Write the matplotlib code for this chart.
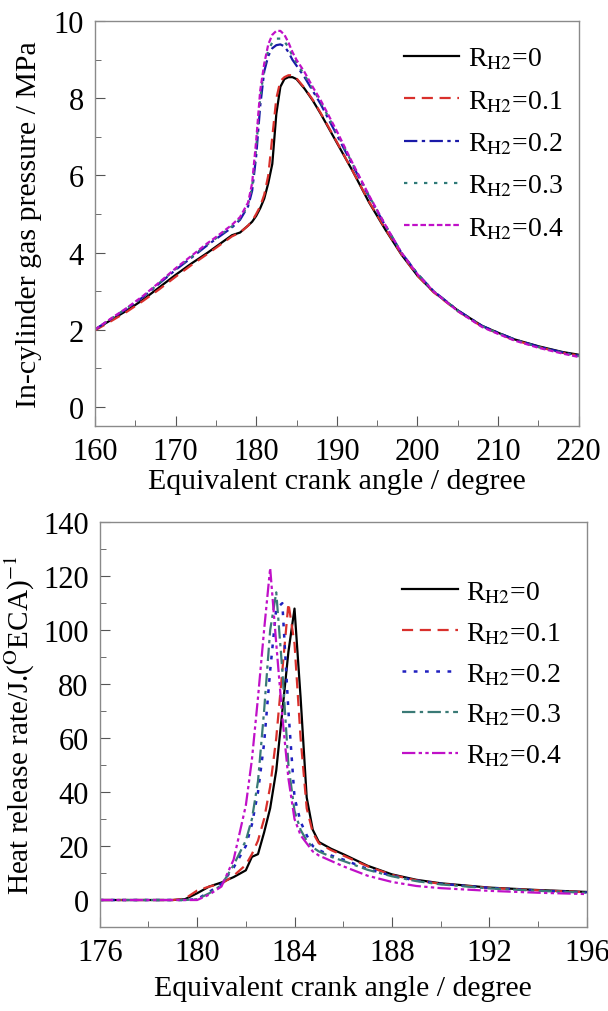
import numpy as np
import matplotlib
matplotlib.use("Agg")
import matplotlib.pyplot as plt
from matplotlib.ticker import MultipleLocator

# ---------------------------
# Data
# ---------------------------
ratios = ["0", "0.1", "0.2", "0.3", "0.4"]

# top panel: in-cylinder pressure (MPa)
p_angle = [160, 162, 164, 166, 168, 170, 172, 174, 175, 176, 177, 178, 179, 179.5,
           180, 180.5, 181, 181.5, 182, 182.5, 183, 183.5, 184, 184.5, 185, 186,
           187, 188, 190, 192, 194, 196, 198, 200, 202, 205, 208, 210, 212, 215,
           218, 220]
p_r0 = [2.0, 2.25, 2.5, 2.78, 3.1, 3.42, 3.72, 4.0, 4.15, 4.3, 4.45, 4.52, 4.7, 4.8,
        4.95, 5.15, 5.4, 5.8, 6.3, 7.6, 8.3, 8.5, 8.55, 8.55, 8.5, 8.25,
        7.95, 7.6, 6.85, 6.1, 5.3, 4.6, 3.95, 3.4, 2.98, 2.5, 2.1, 1.92, 1.75, 1.57,
        1.42, 1.35]
p_r1 = [1.98, 2.22, 2.47, 2.75, 3.05, 3.37, 3.68, 3.97, 4.12, 4.27, 4.42, 4.52, 4.7, 4.82,
        5.0, 5.2, 5.5, 6.0, 7.0, 8.0, 8.45, 8.55, 8.6, 8.6, 8.52, 8.27,
        7.97, 7.62, 6.87, 6.1, 5.32, 4.62, 3.96, 3.4, 2.97, 2.48, 2.08, 1.9, 1.73, 1.55,
        1.4, 1.33]
p_r2 = [2.0, 2.28, 2.55, 2.85, 3.2, 3.55, 3.87, 4.2, 4.35, 4.5, 4.65, 4.85, 5.2, 5.6,
        6.5, 7.8, 8.7, 9.1, 9.3, 9.38, 9.4, 9.35, 9.2, 9.0, 8.85, 8.55,
        8.2, 7.85, 7.05, 6.25, 5.45, 4.7, 4.0, 3.45, 3.0, 2.5, 2.1, 1.92, 1.75, 1.56,
        1.41, 1.33]
p_r3 = [2.0, 2.28, 2.56, 2.86, 3.21, 3.57, 3.89, 4.22, 4.37, 4.53, 4.68, 4.88, 5.25, 5.7,
        6.7, 8.0, 8.8, 9.25, 9.45, 9.55, 9.55, 9.48, 9.32, 9.1, 8.93, 8.6,
        8.25, 7.9, 7.1, 6.28, 5.47, 4.72, 4.0, 3.45, 3.0, 2.49, 2.09, 1.91, 1.74, 1.55,
        1.4, 1.31]
p_r4 = [2.0, 2.29, 2.57, 2.88, 3.23, 3.59, 3.92, 4.25, 4.4, 4.56, 4.72, 4.92, 5.3, 5.8,
        6.9, 8.2, 8.9, 9.4, 9.65, 9.75, 9.75, 9.65, 9.45, 9.2, 9.0, 8.68,
        8.3, 7.95, 7.15, 6.3, 5.48, 4.72, 4.0, 3.44, 2.99, 2.48, 2.07, 1.89, 1.72, 1.53,
        1.38, 1.29]

# bottom panel: heat release rate
h_angle = [176, 179, 179.5, 180, 180.5, 181, 181.5, 182, 182.25, 182.5, 182.75, 183,
           183.25, 183.5, 183.75, 184, 184.25, 184.5, 184.75, 185, 185.5, 186, 187,
           188, 189, 190, 192, 194, 196]
h_r0 = [0, 0, 0.3, 2.5, 5, 6.5, 8.5, 11, 16, 17, 25, 34,
        48, 70, 92, 108, 75, 38, 26, 21.5, 19, 17, 12.7,
        9.5, 7.5, 6.2, 4.6, 3.7, 3.0]
h_r1 = [0, 0, 0.5, 3.5, 5, 6, 9, 13, 17, 22, 30, 42,
        60, 85, 110, 95, 60, 34, 25, 21, 18.5, 16.5, 12.5,
        9.3, 7.3, 6.0, 4.5, 3.6, 2.9]
h_r2 = [0, 0, 0, 0.3, 3, 6, 12, 20, 28, 40, 58, 85,
        108, 110, 70, 38, 29, 24, 20, 18.5, 16.5, 15, 11.5,
        9.0, 7.2, 6.0, 4.5, 3.5, 2.8]
h_r3 = [0, 0, 0, 0.3, 2.5, 5.5, 13, 22, 30, 44, 70, 100,
        114, 85, 50, 33, 26, 22, 19.5, 18, 16, 14.5, 11.2,
        8.8, 7.0, 5.8, 4.3, 3.4, 2.7]
h_r4 = [0, 0, 0, 0, 2, 5, 15, 35, 52, 75, 100, 123,
        95, 68, 45, 30, 24, 21, 18, 16.5, 14.5, 12.5, 9,
        6.7, 5.2, 4.4, 3.4, 2.7, 2.2]

# ---------------------------
# Style
# ---------------------------
plt.rcParams["font.family"] = ["Liberation Serif", "DejaVu Serif"]
plt.rcParams["mathtext.fontset"] = "stix"

top_styles = [
    ("black", "-", 1.6),
    ("#d9302c", (0, (5, 3)), 1.6),
    ("#1a1aa8", (0, (6, 2, 1.5, 2)), 1.6),
    ("#2f7a78", (0, (1.5, 3)), 1.6),
    ("#c010c8", (0, (2.5, 1.2)), 1.6),
]
bot_styles = [
    ("black", "-", 1.6),
    ("#d9302c", (0, (5, 3)), 1.6),
    ("#2020c0", (0, (1.5, 3)), 1.8),
    ("#3a7a76", (0, (6, 2, 1.5, 2)), 1.6),
    ("#c010c8", (0, (6, 1.5, 1.5, 1.5, 1.5, 1.5)), 1.6),
]


def label(r):
    return "R$_{\\mathrm{H2}}$=" + r


def style_axes(ax):
    for s in ax.spines.values():
        s.set_color("#8a8a8a")
        s.set_linewidth(1.0)
    ax.tick_params(which="both", direction="in", top=False, right=False,
                   labelsize=22, color="#555555")
    ax.tick_params(which="major", length=7, pad=8)
    ax.tick_params(which="minor", length=4)


fig = plt.figure(figsize=(6.08, 10.12), dpi=100)

# top panel
ax1 = fig.add_axes([0.156, 0.578, 0.796, 0.400])
for r, y, (c, ls, lw) in zip(ratios, [p_r0, p_r1, p_r2, p_r3, p_r4], top_styles):
    ax1.plot(p_angle, y, color=c, linestyle=ls, linewidth=lw, label=label(r))
ax1.set_xlim(160, 220)
ax1.set_ylim(-0.5, 10)
ax1.xaxis.set_major_locator(MultipleLocator(10))
ax1.xaxis.set_minor_locator(MultipleLocator(5))
ax1.yaxis.set_major_locator(MultipleLocator(2))
ax1.yaxis.set_minor_locator(MultipleLocator(1))
style_axes(ax1)
ax1.set_xlabel("Equivalent crank angle / degree", fontsize=21.5, labelpad=1)
ax1.set_ylabel("In-cylinder gas pressure / MPa", fontsize=21.5, labelpad=8)
ax1.legend(loc="upper right", frameon=False, fontsize=20, handlelength=2.0,
           handletextpad=0.3, labelspacing=0.6, bbox_to_anchor=(1.02, 1.0))

# bottom panel
ax2 = fig.add_axes([0.164, 0.083, 0.801, 0.400])
for r, y, (c, ls, lw) in zip(ratios, [h_r0, h_r1, h_r2, h_r3, h_r4], bot_styles):
    ax2.plot(h_angle, y, color=c, linestyle=ls, linewidth=lw, label=label(r))
ax2.set_xlim(176, 196)
ax2.set_ylim(-10, 140)
ax2.xaxis.set_major_locator(MultipleLocator(4))
ax2.xaxis.set_minor_locator(MultipleLocator(2))
ax2.yaxis.set_major_locator(MultipleLocator(20))
ax2.yaxis.set_minor_locator(MultipleLocator(10))
style_axes(ax2)
ax2.set_xlabel("Equivalent crank angle / degree", fontsize=21.5, labelpad=6)
ax2.set_ylabel("Heat release rate/J.($^{\\mathrm{O}}$ECA)$^{\\mathrm{-1}}$",
               fontsize=21, labelpad=4)
ax2.legend(loc="upper right", frameon=False, fontsize=20, handlelength=2.0,
           handletextpad=0.3, labelspacing=0.55, bbox_to_anchor=(1.0, 0.92))

fig.savefig("out.png", dpi=100)
